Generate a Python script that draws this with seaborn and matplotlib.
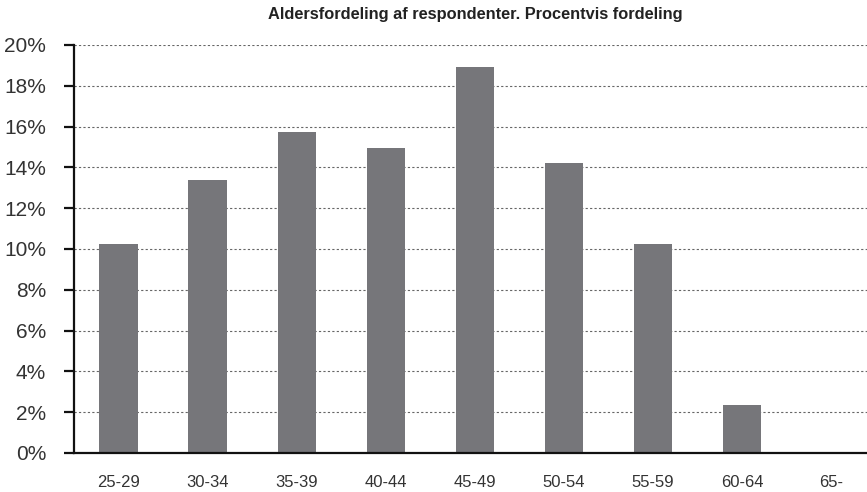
import matplotlib
matplotlib.use("Agg")
import matplotlib.pyplot as plt
import seaborn as sns
import pandas as pd

categories = ["25-29", "30-34", "35-39", "40-44", "45-49", "50-54", "55-59", "60-64", "65-"]
values = [10.25, 13.4, 15.75, 14.95, 18.9, 14.2, 10.25, 2.35, 0.0]
yticks = [0, 2, 4, 6, 8, 10, 12, 14, 16, 18, 20]
title = "Aldersfordeling af respondenter. Procentvis fordeling"

sns.set_theme(style="white")
plt.rcParams['font.family'] = ['Liberation Sans', 'DejaVu Sans']

df = pd.DataFrame({"Alder": categories, "Procent": values})

W, H = 867, 492
fig = plt.figure(figsize=(W / 100, H / 100), dpi=100)
ax = fig.add_axes([74 / W, 1 - 453 / H, (W - 74) / W, (453 - 45) / H])

sns.barplot(data=df, x="Alder", y="Procent", color="#76767a", saturation=1,
            width=0.43, linewidth=0, ax=ax, zorder=3)

ax.set_xlim(-0.5, -0.5 + (W - 74) / 89.1)
ax.set_ylim(0, 20)
ax.set_yticks(yticks)
ax.set_yticklabels([f"{t}%" for t in yticks])
ax.set_xlabel("")
ax.set_ylabel("")

for t in yticks[1:]:
    ax.axhline(t, color="#666666", linestyle=(0, (2.0, 2.0)), linewidth=0.8, zorder=1)

for s in ["top", "right"]:
    ax.spines[s].set_visible(False)
for s in ["left", "bottom"]:
    ax.spines[s].set_visible(True)
    ax.spines[s].set_color("#111111")
    ax.spines[s].set_linewidth(1.6)
    ax.spines[s].set_zorder(4)

ax.tick_params(axis="y", direction="out", length=7, width=1.6, color="#111111",
               left=True, pad=13, labelsize=15, labelcolor="#333333")
ax.tick_params(axis="x", length=0, pad=16, labelsize=12, labelcolor="#333333")

fig.text(475 / W, 1 - 15 / H, title, ha="center", va="center",
         fontsize=11.8, fontweight="bold", color="#222222")

fig.savefig("out.png", dpi=100)
